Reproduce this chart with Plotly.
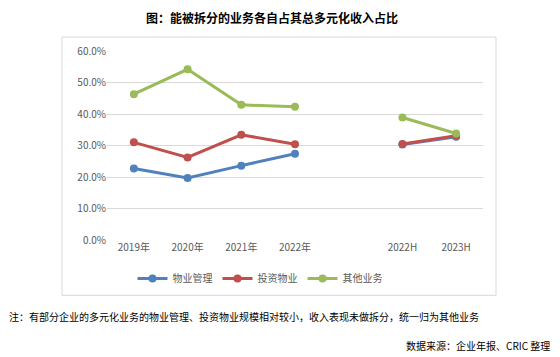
import plotly.graph_objects as go

categories = ["2019年", "2020年", "2021年", "2022年", "", "2022H", "2023H"]
tick_labels = ["2019年", "2020年", "2021年", "2022年", "2022H", "2023H"]
tick_positions = [0, 1, 2, 3, 5, 6]
wuye = [0.227, 0.197, 0.236, 0.274, None, 0.303, 0.328]
touzi = [0.310, 0.262, 0.334, 0.304, None, 0.305, 0.331]
qita = [0.463, 0.542, 0.429, 0.423, None, 0.389, 0.338]
series_names = ["物业管理", "投资物业", "其他业务"]
colors = ["#4F81BD", "#C0504D", "#9BBB59"]

OFF = 8  # page body margin
W, H = 560 - OFF, 357 - OFF
L, R, T, B = 107 - OFF, 483 - OFF, 51 - OFF, 240.5 - OFF

def px(x):
    return (x - OFF - L) / (R - L)

def py(y):
    return (B - (y - OFF)) / (B - T)

font = "Noto Sans CJK SC, SimSun, sans-serif"
fig = go.Figure()
xs = list(range(len(categories)))
for name, vals, c in zip(series_names, [wuye, touzi, qita], colors):
    fig.add_trace(go.Scatter(
        x=xs, y=vals, name=name, mode="lines+markers",
        line=dict(color=c, width=3), marker=dict(color=c, size=8),
        connectgaps=False))

fig.update_layout(
    width=W, height=H,
    margin=dict(l=L, r=W - R, t=T, b=H - B, autoexpand=False),
    paper_bgcolor="white", plot_bgcolor="white",
    font=dict(family=font, size=10, color="#595959"),
    showlegend=True,
    legend=dict(orientation="h", x=px(260), xanchor="center", y=py(279), yanchor="middle",
                font=dict(size=10, color="#595959"), itemwidth=30, tracegroupgap=0),
    xaxis=dict(range=[-0.5, 6.5], tickvals=tick_positions, ticktext=tick_labels,
               showgrid=False, zeroline=False, showline=False, ticks="",
               tickfont=dict(size=10, color="#595959")),
    yaxis=dict(range=[0, 0.6], dtick=0.1, tickformat=".1%", showgrid=True,
               gridcolor="#D9D9D9", gridwidth=1, zeroline=False, showline=False,
               ticks="", tickfont=dict(size=10, color="#595959")),
)

fig.add_shape(type="rect", xref="paper", yref="paper",
              x0=px(62), x1=px(496), y0=py(296), y1=py(37),
              line=dict(color="#D9D9D9", width=1), layer="below")

fig.add_annotation(text="<b>图：能被拆分的业务各自占其总多元化收入占比</b>", xref="paper", yref="paper",
                   x=px(272), y=py(17), xanchor="center", yanchor="middle", showarrow=False,
                   font=dict(size=12, color="#000000", family=font))
fig.add_annotation(text="注：有部分企业的多元化业务的物业管理、投资物业规模相对较小，收入表现未做拆分，统一归为其他业务",
                   xref="paper", yref="paper", x=px(7), y=py(317), xanchor="left", yanchor="middle",
                   showarrow=False, font=dict(size=10, color="#000000", family=font))
fig.add_annotation(text="数据来源：企业年报、CRIC 整理", xref="paper", yref="paper",
                   x=px(552), y=py(346), xanchor="right", yanchor="middle", showarrow=False,
                   font=dict(size=10, color="#000000", family=font))

fig.write_html("out.html")
